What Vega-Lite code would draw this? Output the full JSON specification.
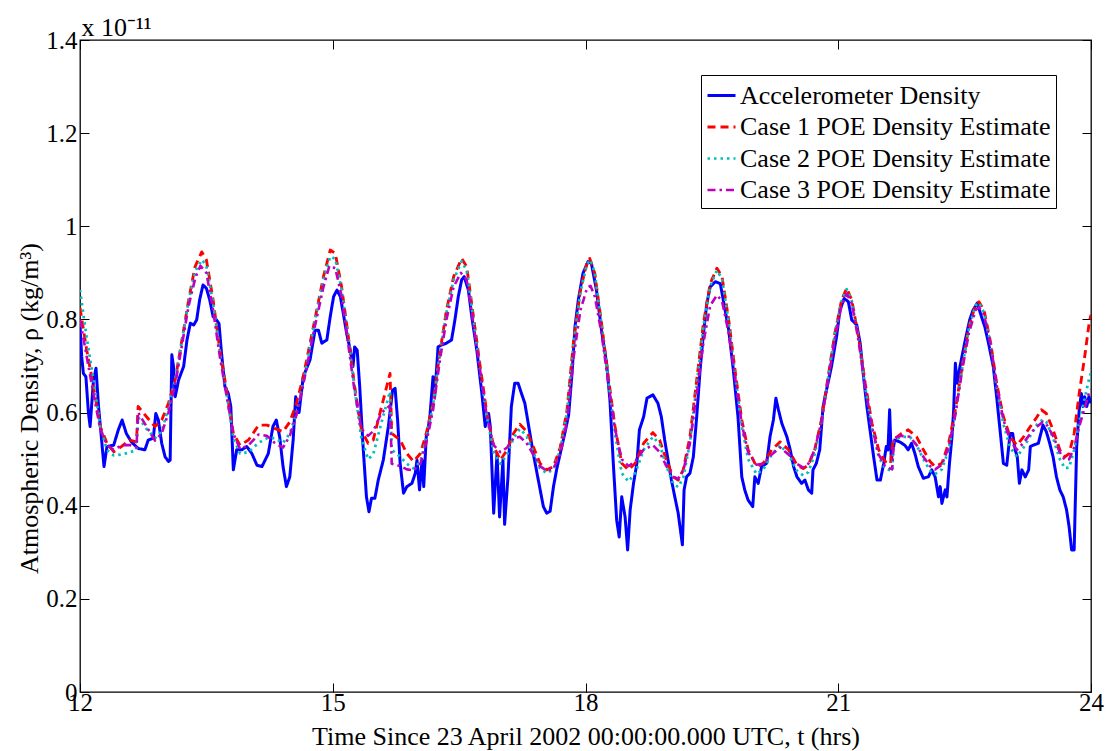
{
"$schema": "https://vega.github.io/schema/vega-lite/v6.json",
"width": 1011, "height": 652,
"autosize": {"type": "none"},
"padding": {"left": 80, "top": 40, "right": 16, "bottom": 59},
"background": "white",
"config": {"font": "Liberation Serif", "view": {"stroke": "black", "strokeWidth": 1.3},
  "axis": {"labelFont": "Liberation Serif", "titleFont": "Liberation Serif", "labelColor": "black", "titleColor": "black", "tickColor": "black", "grid": false, "domain": false, "labelFlush": false, "labelOverlap": false, "titleFontWeight": "normal"},
  "legend": {"labelFont": "Liberation Serif"}},
"datasets": {
"seriesNames": [
{"code": "A", "name": "Accelerometer Density"},
{"code": "C1", "name": "Case 1 POE Density Estimate"},
{"code": "C2", "name": "Case 2 POE Density Estimate"},
{"code": "C3", "name": "Case 3 POE Density Estimate"}
],
"density": [
{"t":12.00,"rho":0.79,"code":"A"},{"t":12.02,"rho":0.72,"code":"A"},{"t":12.04,"rho":0.684,"code":"A"},{"t":12.07,"rho":0.677,"code":"A"},{"t":12.10,"rho":0.60,"code":"A"},{"t":12.12,"rho":0.570,"code":"A"},{"t":12.14,"rho":0.62,"code":"A"},{"t":12.16,"rho":0.670,"code":"A"},{"t":12.19,"rho":0.695,"code":"A"},{"t":12.22,"rho":0.613,"code":"A"},{"t":12.26,"rho":0.534,"code":"A"},{"t":12.285,"rho":0.484,"code":"A"},{"t":12.32,"rho":0.527,"code":"A"},{"t":12.40,"rho":0.530,"code":"A"},{"t":12.455,"rho":0.563,"code":"A"},{"t":12.50,"rho":0.584,"code":"A"},{"t":12.55,"rho":0.555,"code":"A"},{"t":12.61,"rho":0.537,"code":"A"},{"t":12.69,"rho":0.523,"code":"A"},{"t":12.77,"rho":0.520,"code":"A"},{"t":12.81,"rho":0.541,"code":"A"},{"t":12.87,"rho":0.545,"code":"A"},{"t":12.90,"rho":0.598,"code":"A"},{"t":12.93,"rho":0.584,"code":"A"},{"t":12.97,"rho":0.534,"code":"A"},{"t":13.01,"rho":0.505,"code":"A"},{"t":13.05,"rho":0.495,"code":"A"},{"t":13.07,"rho":0.498,"code":"A"},{"t":13.09,"rho":0.724,"code":"A"},{"t":13.11,"rho":0.699,"code":"A"},{"t":13.13,"rho":0.634,"code":"A"},{"t":13.17,"rho":0.670,"code":"A"},{"t":13.23,"rho":0.699,"code":"A"},{"t":13.27,"rho":0.756,"code":"A"},{"t":13.31,"rho":0.792,"code":"A"},{"t":13.35,"rho":0.788,"code":"A"},{"t":13.385,"rho":0.799,"code":"A"},{"t":13.42,"rho":0.842,"code":"A"},{"t":13.46,"rho":0.874,"code":"A"},{"t":13.50,"rho":0.867,"code":"A"},{"t":13.54,"rho":0.842,"code":"A"},{"t":13.58,"rho":0.806,"code":"A"},{"t":13.62,"rho":0.799,"code":"A"},{"t":13.65,"rho":0.791,"code":"A"},{"t":13.68,"rho":0.727,"code":"A"},{"t":13.72,"rho":0.656,"code":"A"},{"t":13.76,"rho":0.641,"code":"A"},{"t":13.79,"rho":0.613,"code":"A"},{"t":13.82,"rho":0.477,"code":"A"},{"t":13.86,"rho":0.520,"code":"A"},{"t":13.92,"rho":0.520,"code":"A"},{"t":13.98,"rho":0.527,"code":"A"},{"t":14.04,"rho":0.512,"code":"A"},{"t":14.10,"rho":0.487,"code":"A"},{"t":14.16,"rho":0.484,"code":"A"},{"t":14.235,"rho":0.512,"code":"A"},{"t":14.29,"rho":0.570,"code":"A"},{"t":14.33,"rho":0.584,"code":"A"},{"t":14.37,"rho":0.548,"code":"A"},{"t":14.41,"rho":0.484,"code":"A"},{"t":14.45,"rho":0.441,"code":"A"},{"t":14.49,"rho":0.462,"code":"A"},{"t":14.53,"rho":0.541,"code":"A"},{"t":14.56,"rho":0.634,"code":"A"},{"t":14.60,"rho":0.600,"code":"A"},{"t":14.65,"rho":0.677,"code":"A"},{"t":14.73,"rho":0.713,"code":"A"},{"t":14.79,"rho":0.777,"code":"A"},{"t":14.83,"rho":0.777,"code":"A"},{"t":14.87,"rho":0.749,"code":"A"},{"t":14.93,"rho":0.756,"code":"A"},{"t":14.97,"rho":0.806,"code":"A"},{"t":15.01,"rho":0.849,"code":"A"},{"t":15.05,"rho":0.863,"code":"A"},{"t":15.09,"rho":0.849,"code":"A"},{"t":15.125,"rho":0.813,"code":"A"},{"t":15.165,"rho":0.770,"code":"A"},{"t":15.20,"rho":0.741,"code":"A"},{"t":15.24,"rho":0.699,"code":"A"},{"t":15.26,"rho":0.741,"code":"A"},{"t":15.29,"rho":0.734,"code":"A"},{"t":15.32,"rho":0.656,"code":"A"},{"t":15.36,"rho":0.527,"code":"A"},{"t":15.40,"rho":0.419,"code":"A"},{"t":15.43,"rho":0.387,"code":"A"},{"t":15.46,"rho":0.416,"code":"A"},{"t":15.50,"rho":0.416,"code":"A"},{"t":15.54,"rho":0.455,"code":"A"},{"t":15.60,"rho":0.498,"code":"A"},{"t":15.66,"rho":0.570,"code":"A"},{"t":15.71,"rho":0.648,"code":"A"},{"t":15.74,"rho":0.652,"code":"A"},{"t":15.77,"rho":0.584,"code":"A"},{"t":15.80,"rho":0.491,"code":"A"},{"t":15.84,"rho":0.427,"code":"A"},{"t":15.88,"rho":0.441,"code":"A"},{"t":15.94,"rho":0.448,"code":"A"},{"t":15.98,"rho":0.470,"code":"A"},{"t":16.00,"rho":0.498,"code":"A"},{"t":16.03,"rho":0.434,"code":"A"},{"t":16.06,"rho":0.498,"code":"A"},{"t":16.08,"rho":0.441,"code":"A"},{"t":16.11,"rho":0.548,"code":"A"},{"t":16.15,"rho":0.584,"code":"A"},{"t":16.19,"rho":0.677,"code":"A"},{"t":16.21,"rho":0.634,"code":"A"},{"t":16.25,"rho":0.741,"code":"A"},{"t":16.29,"rho":0.745,"code":"A"},{"t":16.35,"rho":0.749,"code":"A"},{"t":16.41,"rho":0.756,"code":"A"},{"t":16.45,"rho":0.799,"code":"A"},{"t":16.49,"rho":0.849,"code":"A"},{"t":16.53,"rho":0.885,"code":"A"},{"t":16.56,"rho":0.892,"code":"A"},{"t":16.61,"rho":0.863,"code":"A"},{"t":16.65,"rho":0.806,"code":"A"},{"t":16.71,"rho":0.734,"code":"A"},{"t":16.77,"rho":0.641,"code":"A"},{"t":16.81,"rho":0.570,"code":"A"},{"t":16.85,"rho":0.598,"code":"A"},{"t":16.87,"rho":0.570,"code":"A"},{"t":16.91,"rho":0.384,"code":"A"},{"t":16.95,"rho":0.512,"code":"A"},{"t":16.98,"rho":0.376,"code":"A"},{"t":17.02,"rho":0.498,"code":"A"},{"t":17.04,"rho":0.36,"code":"A"},{"t":17.08,"rho":0.462,"code":"A"},{"t":17.12,"rho":0.613,"code":"A"},{"t":17.16,"rho":0.663,"code":"A"},{"t":17.20,"rho":0.663,"code":"A"},{"t":17.24,"rho":0.641,"code":"A"},{"t":17.28,"rho":0.620,"code":"A"},{"t":17.32,"rho":0.577,"code":"A"},{"t":17.38,"rho":0.512,"code":"A"},{"t":17.44,"rho":0.455,"code":"A"},{"t":17.50,"rho":0.398,"code":"A"},{"t":17.54,"rho":0.384,"code":"A"},{"t":17.58,"rho":0.388,"code":"A"},{"t":17.62,"rho":0.441,"code":"A"},{"t":17.66,"rho":0.480,"code":"A"},{"t":17.70,"rho":0.512,"code":"A"},{"t":17.76,"rho":0.560,"code":"A"},{"t":17.80,"rho":0.595,"code":"A"},{"t":17.84,"rho":0.684,"code":"A"},{"t":17.875,"rho":0.784,"code":"A"},{"t":17.915,"rho":0.842,"code":"A"},{"t":17.97,"rho":0.899,"code":"A"},{"t":18.03,"rho":0.924,"code":"A"},{"t":18.07,"rho":0.920,"code":"A"},{"t":18.13,"rho":0.863,"code":"A"},{"t":18.19,"rho":0.777,"code":"A"},{"t":18.25,"rho":0.706,"code":"A"},{"t":18.29,"rho":0.627,"code":"A"},{"t":18.33,"rho":0.491,"code":"A"},{"t":18.37,"rho":0.369,"code":"A"},{"t":18.40,"rho":0.333,"code":"A"},{"t":18.43,"rho":0.419,"code":"A"},{"t":18.47,"rho":0.376,"code":"A"},{"t":18.50,"rho":0.305,"code":"A"},{"t":18.53,"rho":0.391,"code":"A"},{"t":18.57,"rho":0.448,"code":"A"},{"t":18.61,"rho":0.491,"code":"A"},{"t":18.64,"rho":0.563,"code":"A"},{"t":18.69,"rho":0.591,"code":"A"},{"t":18.73,"rho":0.631,"code":"A"},{"t":18.80,"rho":0.638,"code":"A"},{"t":18.86,"rho":0.620,"code":"A"},{"t":18.90,"rho":0.591,"code":"A"},{"t":18.94,"rho":0.541,"code":"A"},{"t":18.98,"rho":0.498,"code":"A"},{"t":19.02,"rho":0.455,"code":"A"},{"t":19.06,"rho":0.419,"code":"A"},{"t":19.10,"rho":0.384,"code":"A"},{"t":19.15,"rho":0.316,"code":"A"},{"t":19.17,"rho":0.434,"code":"A"},{"t":19.20,"rho":0.462,"code":"A"},{"t":19.24,"rho":0.470,"code":"A"},{"t":19.28,"rho":0.505,"code":"A"},{"t":19.32,"rho":0.591,"code":"A"},{"t":19.36,"rho":0.691,"code":"A"},{"t":19.40,"rho":0.770,"code":"A"},{"t":19.44,"rho":0.834,"code":"A"},{"t":19.48,"rho":0.870,"code":"A"},{"t":19.54,"rho":0.881,"code":"A"},{"t":19.60,"rho":0.877,"code":"A"},{"t":19.635,"rho":0.842,"code":"A"},{"t":19.70,"rho":0.777,"code":"A"},{"t":19.755,"rho":0.691,"code":"A"},{"t":19.81,"rho":0.591,"code":"A"},{"t":19.855,"rho":0.462,"code":"A"},{"t":19.89,"rho":0.434,"code":"A"},{"t":19.93,"rho":0.412,"code":"A"},{"t":19.985,"rho":0.398,"code":"A"},{"t":20.01,"rho":0.462,"code":"A"},{"t":20.05,"rho":0.448,"code":"A"},{"t":20.09,"rho":0.484,"code":"A"},{"t":20.15,"rho":0.491,"code":"A"},{"t":20.19,"rho":0.548,"code":"A"},{"t":20.23,"rho":0.584,"code":"A"},{"t":20.26,"rho":0.631,"code":"A"},{"t":20.29,"rho":0.606,"code":"A"},{"t":20.33,"rho":0.577,"code":"A"},{"t":20.39,"rho":0.548,"code":"A"},{"t":20.43,"rho":0.520,"code":"A"},{"t":20.47,"rho":0.484,"code":"A"},{"t":20.51,"rho":0.462,"code":"A"},{"t":20.565,"rho":0.448,"code":"A"},{"t":20.605,"rho":0.455,"code":"A"},{"t":20.645,"rho":0.434,"code":"A"},{"t":20.685,"rho":0.427,"code":"A"},{"t":20.70,"rho":0.477,"code":"A"},{"t":20.74,"rho":0.491,"code":"A"},{"t":20.78,"rho":0.520,"code":"A"},{"t":20.82,"rho":0.613,"code":"A"},{"t":20.86,"rho":0.648,"code":"A"},{"t":20.92,"rho":0.699,"code":"A"},{"t":20.98,"rho":0.763,"code":"A"},{"t":21.02,"rho":0.820,"code":"A"},{"t":21.07,"rho":0.845,"code":"A"},{"t":21.12,"rho":0.838,"code":"A"},{"t":21.16,"rho":0.799,"code":"A"},{"t":21.22,"rho":0.788,"code":"A"},{"t":21.26,"rho":0.749,"code":"A"},{"t":21.30,"rho":0.677,"code":"A"},{"t":21.34,"rho":0.613,"code":"A"},{"t":21.38,"rho":0.559,"code":"A"},{"t":21.42,"rho":0.505,"code":"A"},{"t":21.46,"rho":0.455,"code":"A"},{"t":21.50,"rho":0.455,"code":"A"},{"t":21.54,"rho":0.491,"code":"A"},{"t":21.57,"rho":0.527,"code":"A"},{"t":21.59,"rho":0.520,"code":"A"},{"t":21.61,"rho":0.606,"code":"A"},{"t":21.63,"rho":0.498,"code":"A"},{"t":21.67,"rho":0.541,"code":"A"},{"t":21.73,"rho":0.537,"code":"A"},{"t":21.79,"rho":0.530,"code":"A"},{"t":21.83,"rho":0.520,"code":"A"},{"t":21.87,"rho":0.534,"code":"A"},{"t":21.91,"rho":0.512,"code":"A"},{"t":21.95,"rho":0.484,"code":"A"},{"t":22.01,"rho":0.459,"code":"A"},{"t":22.07,"rho":0.462,"code":"A"},{"t":22.11,"rho":0.477,"code":"A"},{"t":22.15,"rho":0.462,"code":"A"},{"t":22.19,"rho":0.419,"code":"A"},{"t":22.21,"rho":0.441,"code":"A"},{"t":22.23,"rho":0.405,"code":"A"},{"t":22.27,"rho":0.434,"code":"A"},{"t":22.29,"rho":0.419,"code":"A"},{"t":22.32,"rho":0.491,"code":"A"},{"t":22.35,"rho":0.548,"code":"A"},{"t":22.37,"rho":0.606,"code":"A"},{"t":22.39,"rho":0.706,"code":"A"},{"t":22.41,"rho":0.663,"code":"A"},{"t":22.445,"rho":0.699,"code":"A"},{"t":22.50,"rho":0.749,"code":"A"},{"t":22.56,"rho":0.799,"code":"A"},{"t":22.60,"rho":0.820,"code":"A"},{"t":22.65,"rho":0.835,"code":"A"},{"t":22.70,"rho":0.806,"code":"A"},{"t":22.74,"rho":0.784,"code":"A"},{"t":22.78,"rho":0.752,"code":"A"},{"t":22.84,"rho":0.699,"code":"A"},{"t":22.88,"rho":0.634,"code":"A"},{"t":22.92,"rho":0.563,"code":"A"},{"t":22.96,"rho":0.491,"code":"A"},{"t":23.00,"rho":0.487,"code":"A"},{"t":23.04,"rho":0.555,"code":"A"},{"t":23.07,"rho":0.555,"code":"A"},{"t":23.10,"rho":0.520,"code":"A"},{"t":23.125,"rho":0.505,"code":"A"},{"t":23.15,"rho":0.448,"code":"A"},{"t":23.18,"rho":0.477,"code":"A"},{"t":23.22,"rho":0.462,"code":"A"},{"t":23.26,"rho":0.477,"code":"A"},{"t":23.28,"rho":0.527,"code":"A"},{"t":23.315,"rho":0.530,"code":"A"},{"t":23.375,"rho":0.534,"code":"A"},{"t":23.43,"rho":0.573,"code":"A"},{"t":23.47,"rho":0.559,"code":"A"},{"t":23.51,"rho":0.534,"code":"A"},{"t":23.55,"rho":0.505,"code":"A"},{"t":23.59,"rho":0.462,"code":"A"},{"t":23.63,"rho":0.434,"code":"A"},{"t":23.67,"rho":0.419,"code":"A"},{"t":23.71,"rho":0.391,"code":"A"},{"t":23.74,"rho":0.355,"code":"A"},{"t":23.77,"rho":0.305,"code":"A"},{"t":23.80,"rho":0.305,"code":"A"},{"t":23.83,"rho":0.527,"code":"A"},{"t":23.86,"rho":0.606,"code":"A"},{"t":23.885,"rho":0.641,"code":"A"},{"t":23.905,"rho":0.613,"code":"A"},{"t":23.925,"rho":0.634,"code":"A"},{"t":23.95,"rho":0.613,"code":"A"},{"t":23.975,"rho":0.634,"code":"A"},{"t":24.0,"rho":0.62,"code":"A"},
{"t":12.00,"rho":0.825,"code":"C1"},{"t":12.08,"rho":0.734,"code":"C1"},{"t":12.16,"rho":0.656,"code":"C1"},{"t":12.24,"rho":0.570,"code":"C1"},{"t":12.32,"rho":0.534,"code":"C1"},{"t":12.40,"rho":0.516,"code":"C1"},{"t":12.49,"rho":0.527,"code":"C1"},{"t":12.59,"rho":0.541,"code":"C1"},{"t":12.67,"rho":0.537,"code":"C1"},{"t":12.69,"rho":0.613,"code":"C1"},{"t":12.79,"rho":0.591,"code":"C1"},{"t":12.89,"rho":0.570,"code":"C1"},{"t":12.97,"rho":0.584,"code":"C1"},{"t":13.05,"rho":0.620,"code":"C1"},{"t":13.13,"rho":0.670,"code":"C1"},{"t":13.21,"rho":0.756,"code":"C1"},{"t":13.29,"rho":0.842,"code":"C1"},{"t":13.365,"rho":0.913,"code":"C1"},{"t":13.445,"rho":0.945,"code":"C1"},{"t":13.50,"rho":0.928,"code":"C1"},{"t":13.58,"rho":0.842,"code":"C1"},{"t":13.66,"rho":0.734,"code":"C1"},{"t":13.74,"rho":0.648,"code":"C1"},{"t":13.82,"rho":0.555,"code":"C1"},{"t":13.90,"rho":0.530,"code":"C1"},{"t":14.00,"rho":0.541,"code":"C1"},{"t":14.12,"rho":0.573,"code":"C1"},{"t":14.22,"rho":0.573,"code":"C1"},{"t":14.31,"rho":0.566,"code":"C1"},{"t":14.41,"rho":0.559,"code":"C1"},{"t":14.49,"rho":0.580,"code":"C1"},{"t":14.57,"rho":0.620,"code":"C1"},{"t":14.65,"rho":0.677,"code":"C1"},{"t":14.77,"rho":0.784,"code":"C1"},{"t":14.89,"rho":0.892,"code":"C1"},{"t":14.97,"rho":0.949,"code":"C1"},{"t":15.03,"rho":0.942,"code":"C1"},{"t":15.105,"rho":0.870,"code":"C1"},{"t":15.185,"rho":0.763,"code":"C1"},{"t":15.26,"rho":0.656,"code":"C1"},{"t":15.34,"rho":0.563,"code":"C1"},{"t":15.42,"rho":0.534,"code":"C1"},{"t":15.48,"rho":0.541,"code":"C1"},{"t":15.58,"rho":0.613,"code":"C1"},{"t":15.68,"rho":0.684,"code":"C1"},{"t":15.70,"rho":0.555,"code":"C1"},{"t":15.80,"rho":0.541,"code":"C1"},{"t":15.88,"rho":0.512,"code":"C1"},{"t":15.96,"rho":0.495,"code":"C1"},{"t":16.04,"rho":0.512,"code":"C1"},{"t":16.11,"rho":0.555,"code":"C1"},{"t":16.19,"rho":0.620,"code":"C1"},{"t":16.27,"rho":0.727,"code":"C1"},{"t":16.35,"rho":0.820,"code":"C1"},{"t":16.435,"rho":0.892,"code":"C1"},{"t":16.53,"rho":0.931,"code":"C1"},{"t":16.59,"rho":0.913,"code":"C1"},{"t":16.67,"rho":0.806,"code":"C1"},{"t":16.75,"rho":0.699,"code":"C1"},{"t":16.83,"rho":0.598,"code":"C1"},{"t":16.91,"rho":0.527,"code":"C1"},{"t":16.99,"rho":0.498,"code":"C1"},{"t":17.07,"rho":0.520,"code":"C1"},{"t":17.145,"rho":0.555,"code":"C1"},{"t":17.22,"rho":0.575,"code":"C1"},{"t":17.30,"rho":0.560,"code":"C1"},{"t":17.38,"rho":0.527,"code":"C1"},{"t":17.46,"rho":0.491,"code":"C1"},{"t":17.54,"rho":0.477,"code":"C1"},{"t":17.62,"rho":0.484,"code":"C1"},{"t":17.70,"rho":0.525,"code":"C1"},{"t":17.78,"rho":0.605,"code":"C1"},{"t":17.86,"rho":0.756,"code":"C1"},{"t":17.94,"rho":0.863,"code":"C1"},{"t":18.02,"rho":0.924,"code":"C1"},{"t":18.05,"rho":0.931,"code":"C1"},{"t":18.11,"rho":0.899,"code":"C1"},{"t":18.19,"rho":0.792,"code":"C1"},{"t":18.27,"rho":0.677,"code":"C1"},{"t":18.35,"rho":0.570,"code":"C1"},{"t":18.43,"rho":0.491,"code":"C1"},{"t":18.51,"rho":0.477,"code":"C1"},{"t":18.59,"rho":0.491,"code":"C1"},{"t":18.69,"rho":0.534,"code":"C1"},{"t":18.80,"rho":0.557,"code":"C1"},{"t":18.88,"rho":0.541,"code":"C1"},{"t":18.96,"rho":0.498,"code":"C1"},{"t":19.04,"rho":0.462,"code":"C1"},{"t":19.10,"rho":0.455,"code":"C1"},{"t":19.16,"rho":0.477,"code":"C1"},{"t":19.24,"rho":0.548,"code":"C1"},{"t":19.32,"rho":0.670,"code":"C1"},{"t":19.40,"rho":0.792,"code":"C1"},{"t":19.48,"rho":0.877,"code":"C1"},{"t":19.56,"rho":0.910,"code":"C1"},{"t":19.62,"rho":0.892,"code":"C1"},{"t":19.70,"rho":0.799,"code":"C1"},{"t":19.78,"rho":0.684,"code":"C1"},{"t":19.855,"rho":0.584,"code":"C1"},{"t":19.93,"rho":0.520,"code":"C1"},{"t":20.03,"rho":0.484,"code":"C1"},{"t":20.11,"rho":0.491,"code":"C1"},{"t":20.21,"rho":0.520,"code":"C1"},{"t":20.31,"rho":0.537,"code":"C1"},{"t":20.41,"rho":0.520,"code":"C1"},{"t":20.51,"rho":0.487,"code":"C1"},{"t":20.585,"rho":0.480,"code":"C1"},{"t":20.645,"rho":0.487,"code":"C1"},{"t":20.72,"rho":0.520,"code":"C1"},{"t":20.80,"rho":0.584,"code":"C1"},{"t":20.88,"rho":0.677,"code":"C1"},{"t":20.96,"rho":0.770,"code":"C1"},{"t":21.04,"rho":0.842,"code":"C1"},{"t":21.10,"rho":0.867,"code":"C1"},{"t":21.16,"rho":0.842,"code":"C1"},{"t":21.24,"rho":0.763,"code":"C1"},{"t":21.32,"rho":0.663,"code":"C1"},{"t":21.40,"rho":0.577,"code":"C1"},{"t":21.48,"rho":0.520,"code":"C1"},{"t":21.555,"rho":0.495,"code":"C1"},{"t":21.62,"rho":0.490,"code":"C1"},{"t":21.65,"rho":0.541,"code":"C1"},{"t":21.75,"rho":0.555,"code":"C1"},{"t":21.83,"rho":0.563,"code":"C1"},{"t":21.93,"rho":0.548,"code":"C1"},{"t":22.01,"rho":0.520,"code":"C1"},{"t":22.09,"rho":0.495,"code":"C1"},{"t":22.15,"rho":0.484,"code":"C1"},{"t":22.23,"rho":0.491,"code":"C1"},{"t":22.31,"rho":0.534,"code":"C1"},{"t":22.39,"rho":0.606,"code":"C1"},{"t":22.47,"rho":0.699,"code":"C1"},{"t":22.55,"rho":0.784,"code":"C1"},{"t":22.63,"rho":0.831,"code":"C1"},{"t":22.67,"rho":0.838,"code":"C1"},{"t":22.73,"rho":0.820,"code":"C1"},{"t":22.81,"rho":0.749,"code":"C1"},{"t":22.88,"rho":0.663,"code":"C1"},{"t":22.96,"rho":0.591,"code":"C1"},{"t":23.04,"rho":0.548,"code":"C1"},{"t":23.12,"rho":0.530,"code":"C1"},{"t":23.20,"rho":0.548,"code":"C1"},{"t":23.28,"rho":0.570,"code":"C1"},{"t":23.36,"rho":0.591,"code":"C1"},{"t":23.41,"rho":0.606,"code":"C1"},{"t":23.47,"rho":0.598,"code":"C1"},{"t":23.55,"rho":0.563,"code":"C1"},{"t":23.63,"rho":0.520,"code":"C1"},{"t":23.69,"rho":0.505,"code":"C1"},{"t":23.74,"rho":0.512,"code":"C1"},{"t":23.80,"rho":0.555,"code":"C1"},{"t":23.86,"rho":0.641,"code":"C1"},{"t":23.925,"rho":0.720,"code":"C1"},{"t":23.98,"rho":0.795,"code":"C1"},{"t":24.0,"rho":0.81,"code":"C1"},
{"t":12.00,"rho":0.863,"code":"C2"},{"t":12.08,"rho":0.76,"code":"C2"},{"t":12.16,"rho":0.67,"code":"C2"},{"t":12.24,"rho":0.57,"code":"C2"},{"t":12.32,"rho":0.52,"code":"C2"},{"t":12.40,"rho":0.508,"code":"C2"},{"t":12.50,"rho":0.51,"code":"C2"},{"t":12.60,"rho":0.515,"code":"C2"},{"t":12.67,"rho":0.52,"code":"C2"},{"t":12.69,"rho":0.59,"code":"C2"},{"t":12.79,"rho":0.565,"code":"C2"},{"t":12.89,"rho":0.545,"code":"C2"},{"t":12.97,"rho":0.56,"code":"C2"},{"t":13.05,"rho":0.61,"code":"C2"},{"t":13.13,"rho":0.67,"code":"C2"},{"t":13.21,"rho":0.755,"code":"C2"},{"t":13.29,"rho":0.84,"code":"C2"},{"t":13.37,"rho":0.905,"code":"C2"},{"t":13.45,"rho":0.928,"code":"C2"},{"t":13.50,"rho":0.915,"code":"C2"},{"t":13.58,"rho":0.835,"code":"C2"},{"t":13.66,"rho":0.73,"code":"C2"},{"t":13.74,"rho":0.64,"code":"C2"},{"t":13.82,"rho":0.545,"code":"C2"},{"t":13.90,"rho":0.512,"code":"C2"},{"t":14.00,"rho":0.515,"code":"C2"},{"t":14.12,"rho":0.535,"code":"C2"},{"t":14.22,"rho":0.545,"code":"C2"},{"t":14.31,"rho":0.545,"code":"C2"},{"t":14.41,"rho":0.535,"code":"C2"},{"t":14.49,"rho":0.555,"code":"C2"},{"t":14.57,"rho":0.6,"code":"C2"},{"t":14.65,"rho":0.665,"code":"C2"},{"t":14.77,"rho":0.78,"code":"C2"},{"t":14.89,"rho":0.885,"code":"C2"},{"t":14.97,"rho":0.935,"code":"C2"},{"t":15.03,"rho":0.93,"code":"C2"},{"t":15.105,"rho":0.865,"code":"C2"},{"t":15.185,"rho":0.76,"code":"C2"},{"t":15.26,"rho":0.65,"code":"C2"},{"t":15.34,"rho":0.545,"code":"C2"},{"t":15.42,"rho":0.500,"code":"C2"},{"t":15.48,"rho":0.51,"code":"C2"},{"t":15.58,"rho":0.58,"code":"C2"},{"t":15.68,"rho":0.645,"code":"C2"},{"t":15.70,"rho":0.52,"code":"C2"},{"t":15.80,"rho":0.505,"code":"C2"},{"t":15.88,"rho":0.49,"code":"C2"},{"t":15.96,"rho":0.48,"code":"C2"},{"t":16.04,"rho":0.495,"code":"C2"},{"t":16.11,"rho":0.545,"code":"C2"},{"t":16.19,"rho":0.615,"code":"C2"},{"t":16.27,"rho":0.725,"code":"C2"},{"t":16.35,"rho":0.815,"code":"C2"},{"t":16.435,"rho":0.885,"code":"C2"},{"t":16.53,"rho":0.925,"code":"C2"},{"t":16.59,"rho":0.905,"code":"C2"},{"t":16.67,"rho":0.8,"code":"C2"},{"t":16.75,"rho":0.69,"code":"C2"},{"t":16.83,"rho":0.59,"code":"C2"},{"t":16.91,"rho":0.515,"code":"C2"},{"t":16.99,"rho":0.49,"code":"C2"},{"t":17.07,"rho":0.51,"code":"C2"},{"t":17.145,"rho":0.545,"code":"C2"},{"t":17.22,"rho":0.565,"code":"C2"},{"t":17.30,"rho":0.55,"code":"C2"},{"t":17.38,"rho":0.515,"code":"C2"},{"t":17.46,"rho":0.48,"code":"C2"},{"t":17.54,"rho":0.47,"code":"C2"},{"t":17.62,"rho":0.478,"code":"C2"},{"t":17.70,"rho":0.52,"code":"C2"},{"t":17.78,"rho":0.6,"code":"C2"},{"t":17.86,"rho":0.75,"code":"C2"},{"t":17.94,"rho":0.86,"code":"C2"},{"t":18.02,"rho":0.92,"code":"C2"},{"t":18.06,"rho":0.928,"code":"C2"},{"t":18.11,"rho":0.9,"code":"C2"},{"t":18.19,"rho":0.79,"code":"C2"},{"t":18.27,"rho":0.67,"code":"C2"},{"t":18.35,"rho":0.555,"code":"C2"},{"t":18.43,"rho":0.47,"code":"C2"},{"t":18.51,"rho":0.452,"code":"C2"},{"t":18.59,"rho":0.47,"code":"C2"},{"t":18.69,"rho":0.52,"code":"C2"},{"t":18.80,"rho":0.548,"code":"C2"},{"t":18.88,"rho":0.532,"code":"C2"},{"t":18.96,"rho":0.485,"code":"C2"},{"t":19.04,"rho":0.448,"code":"C2"},{"t":19.10,"rho":0.44,"code":"C2"},{"t":19.16,"rho":0.46,"code":"C2"},{"t":19.24,"rho":0.535,"code":"C2"},{"t":19.32,"rho":0.66,"code":"C2"},{"t":19.40,"rho":0.785,"code":"C2"},{"t":19.48,"rho":0.872,"code":"C2"},{"t":19.56,"rho":0.905,"code":"C2"},{"t":19.62,"rho":0.888,"code":"C2"},{"t":19.70,"rho":0.795,"code":"C2"},{"t":19.78,"rho":0.675,"code":"C2"},{"t":19.855,"rho":0.57,"code":"C2"},{"t":19.93,"rho":0.5,"code":"C2"},{"t":20.03,"rho":0.468,"code":"C2"},{"t":20.11,"rho":0.478,"code":"C2"},{"t":20.21,"rho":0.51,"code":"C2"},{"t":20.31,"rho":0.53,"code":"C2"},{"t":20.41,"rho":0.51,"code":"C2"},{"t":20.51,"rho":0.475,"code":"C2"},{"t":20.585,"rho":0.465,"code":"C2"},{"t":20.645,"rho":0.472,"code":"C2"},{"t":20.72,"rho":0.51,"code":"C2"},{"t":20.80,"rho":0.58,"code":"C2"},{"t":20.88,"rho":0.675,"code":"C2"},{"t":20.96,"rho":0.77,"code":"C2"},{"t":21.04,"rho":0.84,"code":"C2"},{"t":21.10,"rho":0.865,"code":"C2"},{"t":21.16,"rho":0.84,"code":"C2"},{"t":21.24,"rho":0.76,"code":"C2"},{"t":21.32,"rho":0.655,"code":"C2"},{"t":21.40,"rho":0.565,"code":"C2"},{"t":21.48,"rho":0.505,"code":"C2"},{"t":21.555,"rho":0.48,"code":"C2"},{"t":21.64,"rho":0.475,"code":"C2"},{"t":21.66,"rho":0.54,"code":"C2"},{"t":21.75,"rho":0.548,"code":"C2"},{"t":21.85,"rho":0.548,"code":"C2"},{"t":21.93,"rho":0.53,"code":"C2"},{"t":22.01,"rho":0.5,"code":"C2"},{"t":22.09,"rho":0.475,"code":"C2"},{"t":22.15,"rho":0.468,"code":"C2"},{"t":22.23,"rho":0.478,"code":"C2"},{"t":22.31,"rho":0.52,"code":"C2"},{"t":22.39,"rho":0.595,"code":"C2"},{"t":22.47,"rho":0.695,"code":"C2"},{"t":22.55,"rho":0.78,"code":"C2"},{"t":22.63,"rho":0.83,"code":"C2"},{"t":22.67,"rho":0.836,"code":"C2"},{"t":22.73,"rho":0.815,"code":"C2"},{"t":22.81,"rho":0.745,"code":"C2"},{"t":22.88,"rho":0.655,"code":"C2"},{"t":22.96,"rho":0.575,"code":"C2"},{"t":23.04,"rho":0.525,"code":"C2"},{"t":23.12,"rho":0.505,"code":"C2"},{"t":23.20,"rho":0.525,"code":"C2"},{"t":23.28,"rho":0.55,"code":"C2"},{"t":23.36,"rho":0.575,"code":"C2"},{"t":23.43,"rho":0.585,"code":"C2"},{"t":23.47,"rho":0.58,"code":"C2"},{"t":23.55,"rho":0.545,"code":"C2"},{"t":23.63,"rho":0.5,"code":"C2"},{"t":23.69,"rho":0.48,"code":"C2"},{"t":23.74,"rho":0.482,"code":"C2"},{"t":23.80,"rho":0.52,"code":"C2"},{"t":23.86,"rho":0.58,"code":"C2"},{"t":23.925,"rho":0.63,"code":"C2"},{"t":23.98,"rho":0.675,"code":"C2"},{"t":24.0,"rho":0.685,"code":"C2"},
{"t":12.00,"rho":0.80,"code":"C3"},{"t":12.08,"rho":0.72,"code":"C3"},{"t":12.16,"rho":0.64,"code":"C3"},{"t":12.24,"rho":0.565,"code":"C3"},{"t":12.32,"rho":0.53,"code":"C3"},{"t":12.40,"rho":0.52,"code":"C3"},{"t":12.50,"rho":0.53,"code":"C3"},{"t":12.60,"rho":0.53,"code":"C3"},{"t":12.67,"rho":0.525,"code":"C3"},{"t":12.69,"rho":0.60,"code":"C3"},{"t":12.79,"rho":0.57,"code":"C3"},{"t":12.89,"rho":0.54,"code":"C3"},{"t":12.97,"rho":0.555,"code":"C3"},{"t":13.05,"rho":0.60,"code":"C3"},{"t":13.13,"rho":0.66,"code":"C3"},{"t":13.21,"rho":0.745,"code":"C3"},{"t":13.29,"rho":0.83,"code":"C3"},{"t":13.37,"rho":0.89,"code":"C3"},{"t":13.43,"rho":0.915,"code":"C3"},{"t":13.50,"rho":0.9,"code":"C3"},{"t":13.58,"rho":0.82,"code":"C3"},{"t":13.66,"rho":0.72,"code":"C3"},{"t":13.74,"rho":0.635,"code":"C3"},{"t":13.82,"rho":0.555,"code":"C3"},{"t":13.90,"rho":0.522,"code":"C3"},{"t":14.00,"rho":0.53,"code":"C3"},{"t":14.12,"rho":0.553,"code":"C3"},{"t":14.22,"rho":0.55,"code":"C3"},{"t":14.31,"rho":0.535,"code":"C3"},{"t":14.41,"rho":0.525,"code":"C3"},{"t":14.49,"rho":0.55,"code":"C3"},{"t":14.57,"rho":0.595,"code":"C3"},{"t":14.65,"rho":0.66,"code":"C3"},{"t":14.77,"rho":0.77,"code":"C3"},{"t":14.89,"rho":0.87,"code":"C3"},{"t":14.96,"rho":0.915,"code":"C3"},{"t":15.03,"rho":0.91,"code":"C3"},{"t":15.105,"rho":0.85,"code":"C3"},{"t":15.185,"rho":0.745,"code":"C3"},{"t":15.26,"rho":0.645,"code":"C3"},{"t":15.34,"rho":0.565,"code":"C3"},{"t":15.42,"rho":0.55,"code":"C3"},{"t":15.48,"rho":0.56,"code":"C3"},{"t":15.58,"rho":0.6,"code":"C3"},{"t":15.68,"rho":0.615,"code":"C3"},{"t":15.70,"rho":0.49,"code":"C3"},{"t":15.80,"rho":0.485,"code":"C3"},{"t":15.88,"rho":0.478,"code":"C3"},{"t":15.96,"rho":0.476,"code":"C3"},{"t":16.04,"rho":0.49,"code":"C3"},{"t":16.11,"rho":0.535,"code":"C3"},{"t":16.19,"rho":0.605,"code":"C3"},{"t":16.27,"rho":0.71,"code":"C3"},{"t":16.35,"rho":0.8,"code":"C3"},{"t":16.435,"rho":0.87,"code":"C3"},{"t":16.52,"rho":0.9,"code":"C3"},{"t":16.59,"rho":0.885,"code":"C3"},{"t":16.67,"rho":0.79,"code":"C3"},{"t":16.75,"rho":0.69,"code":"C3"},{"t":16.83,"rho":0.59,"code":"C3"},{"t":16.91,"rho":0.53,"code":"C3"},{"t":16.99,"rho":0.515,"code":"C3"},{"t":17.07,"rho":0.525,"code":"C3"},{"t":17.145,"rho":0.545,"code":"C3"},{"t":17.22,"rho":0.548,"code":"C3"},{"t":17.30,"rho":0.535,"code":"C3"},{"t":17.38,"rho":0.51,"code":"C3"},{"t":17.46,"rho":0.485,"code":"C3"},{"t":17.54,"rho":0.475,"code":"C3"},{"t":17.62,"rho":0.48,"code":"C3"},{"t":17.70,"rho":0.51,"code":"C3"},{"t":17.78,"rho":0.58,"code":"C3"},{"t":17.86,"rho":0.72,"code":"C3"},{"t":17.94,"rho":0.82,"code":"C3"},{"t":18.02,"rho":0.868,"code":"C3"},{"t":18.06,"rho":0.872,"code":"C3"},{"t":18.11,"rho":0.85,"code":"C3"},{"t":18.19,"rho":0.77,"code":"C3"},{"t":18.27,"rho":0.665,"code":"C3"},{"t":18.35,"rho":0.565,"code":"C3"},{"t":18.43,"rho":0.5,"code":"C3"},{"t":18.51,"rho":0.485,"code":"C3"},{"t":18.59,"rho":0.495,"code":"C3"},{"t":18.69,"rho":0.52,"code":"C3"},{"t":18.80,"rho":0.53,"code":"C3"},{"t":18.88,"rho":0.515,"code":"C3"},{"t":18.96,"rho":0.485,"code":"C3"},{"t":19.04,"rho":0.462,"code":"C3"},{"t":19.10,"rho":0.458,"code":"C3"},{"t":19.16,"rho":0.475,"code":"C3"},{"t":19.24,"rho":0.535,"code":"C3"},{"t":19.32,"rho":0.64,"code":"C3"},{"t":19.40,"rho":0.75,"code":"C3"},{"t":19.48,"rho":0.83,"code":"C3"},{"t":19.56,"rho":0.852,"code":"C3"},{"t":19.62,"rho":0.84,"code":"C3"},{"t":19.70,"rho":0.77,"code":"C3"},{"t":19.78,"rho":0.67,"code":"C3"},{"t":19.855,"rho":0.575,"code":"C3"},{"t":19.93,"rho":0.515,"code":"C3"},{"t":20.03,"rho":0.488,"code":"C3"},{"t":20.11,"rho":0.49,"code":"C3"},{"t":20.21,"rho":0.51,"code":"C3"},{"t":20.31,"rho":0.525,"code":"C3"},{"t":20.41,"rho":0.51,"code":"C3"},{"t":20.51,"rho":0.49,"code":"C3"},{"t":20.585,"rho":0.482,"code":"C3"},{"t":20.645,"rho":0.49,"code":"C3"},{"t":20.72,"rho":0.52,"code":"C3"},{"t":20.80,"rho":0.58,"code":"C3"},{"t":20.88,"rho":0.67,"code":"C3"},{"t":20.96,"rho":0.76,"code":"C3"},{"t":21.04,"rho":0.83,"code":"C3"},{"t":21.10,"rho":0.855,"code":"C3"},{"t":21.16,"rho":0.835,"code":"C3"},{"t":21.24,"rho":0.755,"code":"C3"},{"t":21.32,"rho":0.655,"code":"C3"},{"t":21.40,"rho":0.57,"code":"C3"},{"t":21.48,"rho":0.51,"code":"C3"},{"t":21.555,"rho":0.485,"code":"C3"},{"t":21.64,"rho":0.478,"code":"C3"},{"t":21.66,"rho":0.545,"code":"C3"},{"t":21.75,"rho":0.55,"code":"C3"},{"t":21.85,"rho":0.548,"code":"C3"},{"t":21.93,"rho":0.53,"code":"C3"},{"t":22.01,"rho":0.505,"code":"C3"},{"t":22.09,"rho":0.485,"code":"C3"},{"t":22.15,"rho":0.478,"code":"C3"},{"t":22.23,"rho":0.488,"code":"C3"},{"t":22.31,"rho":0.525,"code":"C3"},{"t":22.39,"rho":0.595,"code":"C3"},{"t":22.47,"rho":0.69,"code":"C3"},{"t":22.55,"rho":0.77,"code":"C3"},{"t":22.63,"rho":0.82,"code":"C3"},{"t":22.67,"rho":0.826,"code":"C3"},{"t":22.73,"rho":0.81,"code":"C3"},{"t":22.81,"rho":0.745,"code":"C3"},{"t":22.88,"rho":0.66,"code":"C3"},{"t":22.96,"rho":0.585,"code":"C3"},{"t":23.04,"rho":0.54,"code":"C3"},{"t":23.12,"rho":0.52,"code":"C3"},{"t":23.20,"rho":0.535,"code":"C3"},{"t":23.28,"rho":0.555,"code":"C3"},{"t":23.36,"rho":0.57,"code":"C3"},{"t":23.43,"rho":0.58,"code":"C3"},{"t":23.47,"rho":0.575,"code":"C3"},{"t":23.55,"rho":0.55,"code":"C3"},{"t":23.63,"rho":0.515,"code":"C3"},{"t":23.69,"rho":0.498,"code":"C3"},{"t":23.74,"rho":0.5,"code":"C3"},{"t":23.80,"rho":0.525,"code":"C3"},{"t":23.86,"rho":0.57,"code":"C3"},{"t":23.925,"rho":0.61,"code":"C3"},{"t":23.98,"rho":0.645,"code":"C3"},{"t":24.0,"rho":0.65,"code":"C3"}
]
},
"layer": [
{
"data": {"name": "density"},
"transform": [{"lookup": "code", "from": {"data": {"name": "seriesNames"}, "key": "code", "fields": ["name"]}}],
"mark": {"type": "line", "strokeCap": "butt", "strokeJoin": "round", "clip": true},
"encoding": {
"x": {"field": "t", "type": "quantitative", "scale": {"domain": [12, 24], "nice": false, "zero": false},
  "axis": {"orient": "bottom", "values": [12, 15, 18, 21, 24], "tickSize": -9, "tickWidth": 1, "labelFontSize": 25, "labelPadding": 7, "labelBaseline": "top",
   "title": "Time Since 23 April 2002 00:00:00.000 UTC, t (hrs)", "titleFontSize": 26, "titleY": 52, "titleBaseline": "alphabetic"}},
"y": {"field": "rho", "type": "quantitative", "scale": {"domain": [0, 1.4], "nice": false, "zero": true},
  "axis": {"orient": "left", "values": [0, 0.2, 0.4, 0.6, 0.8, 1, 1.2, 1.4], "format": "~g", "tickSize": -9, "tickWidth": 1, "labelFontSize": 25, "labelPadding": 12,
   "title": "Atmospheric Density, ρ (kg/m³)", "titleFontSize": 26, "titleX": -43, "titleY": 368, "titleAngle": 270, "titleBaseline": "alphabetic", "titleAlign": "center"}},
"color": {"field": "name", "type": "nominal", "title": null,
  "scale": {"domain": ["Accelerometer Density", "Case 1 POE Density Estimate", "Case 2 POE Density Estimate", "Case 3 POE Density Estimate"], "range": ["#0000ff", "#ff0000", "#00bfbf", "#bf00bf"]},
  "legend": {"orient": "top-right", "offset": 35, "title": null, "labelFontSize": 26, "labelColor": "black", "symbolType": "stroke", "symbolSize": 784, "symbolStrokeWidth": 2.6, "strokeColor": "black", "fillColor": "white", "padding": 5, "rowPadding": 2.5, "labelOffset": 3, "labelLimit": 0}},
"strokeDash": {"field": "name", "type": "nominal", "title": null,
  "scale": {"domain": ["Accelerometer Density", "Case 1 POE Density Estimate", "Case 2 POE Density Estimate", "Case 3 POE Density Estimate"], "range": [[1, 0], [8, 5], [2.5, 4], [8, 4, 2.5, 4]]},
  "legend": {"orient": "top-right", "offset": 35, "title": null, "labelFontSize": 26, "labelColor": "black", "symbolType": "stroke", "symbolSize": 784, "symbolStrokeWidth": 2.6, "strokeColor": "black", "fillColor": "white", "padding": 5, "rowPadding": 2.5, "labelOffset": 3, "labelLimit": 0}},
"strokeWidth": {"field": "name", "type": "nominal",
  "scale": {"domain": ["Accelerometer Density", "Case 1 POE Density Estimate", "Case 2 POE Density Estimate", "Case 3 POE Density Estimate"], "range": [3, 2.6, 2.6, 2.6]},
  "legend": null}
}
},
{
"data": {"name": "density"},
"mark": {"type": "point", "opacity": 0},
"encoding": {
"x": {"field": "t", "type": "quantitative", "scale": {"domain": [12, 24], "nice": false, "zero": false},
  "axis": {"orient": "top", "values": [12, 15, 18, 21, 24], "tickSize": -9, "tickWidth": 1, "labels": false,
   "title": "x 10⁻¹¹", "titleFontSize": 26, "titleX": 1, "titleY": -5, "titleAlign": "left", "titleBaseline": "alphabetic", "titleAnchor": "start"}},
"y": {"field": "rho", "type": "quantitative", "scale": {"domain": [0, 1.4], "nice": false, "zero": true},
  "axis": {"orient": "right", "values": [0, 0.2, 0.4, 0.6, 0.8, 1, 1.2, 1.4], "tickSize": -9, "tickWidth": 1, "labels": false, "title": null}}
}
}
],
"resolve": {"axis": {"x": "independent", "y": "independent"}}
}
